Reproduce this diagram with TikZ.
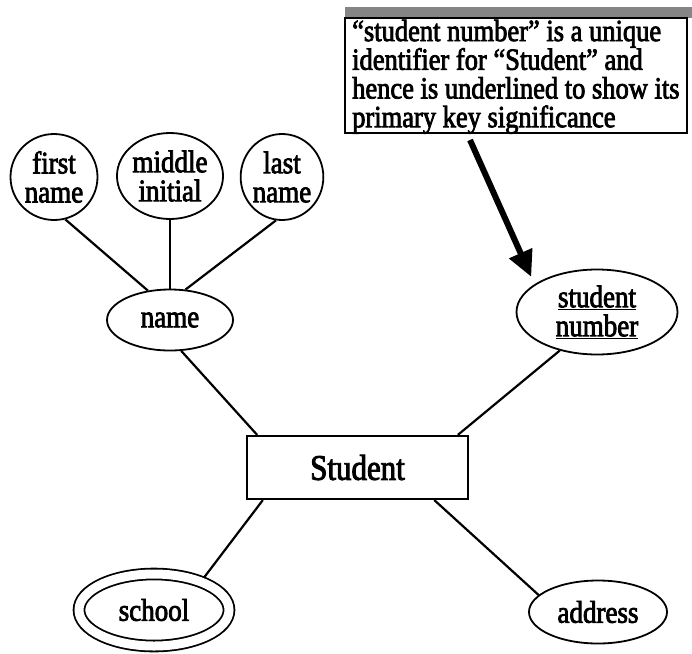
\documentclass[tikz,border=0pt]{standalone}
\usepackage{fontspec}
\setmainfont{Liberation Serif}[FakeStretch=0.86, FakeBold=2.5]
\usetikzlibrary{shapes.geometric,arrows.meta}

\newcommand\erattrfont{\fontsize{31.4}{29}\selectfont}
\newcommand\erentityfont{\fontsize{36}{40}\selectfont}
\newcommand\ernotefont{\fontsize{30.8}{28.7}\selectfont}

\tikzset{
  attr/.style={ellipse, draw, line width=1.8pt, inner sep=0pt, align=center, font=\erattrfont},
  entity/.style={rectangle, draw, line width=2.2pt, inner sep=0pt, font=\erentityfont},
  link/.style={draw, line width=2.2pt},
  noteframe/.style={rectangle, draw, line width=2.6pt, fill=white, inner sep=0pt},
  notetext/.style={inner sep=0pt, align=left, font=\ernotefont},
  pointer/.style={line width=6pt, -{Triangle[length=26pt,width=24pt]}},
}

\begin{document}
\begin{tikzpicture}[x=1pt,y=-1pt]
\useasboundingbox[fill=white] (0,0) rectangle (692,653);

% explanatory note with its shaded top bar
\fill[black!48] (345,7) rectangle (692,18);
\node[noteframe, minimum width=342pt, minimum height=115pt] (note) at (516,75.5) {};
\node[notetext, anchor=north west] (notetext) at (352,19.5)
  {“student number” is a unique\\identifier for “Student” and\\hence is underlined to show its\\primary key significance};

% attributes of the composite attribute
\node[attr, minimum width=87pt, minimum height=86pt]  (fname) at (54,177)  {first\\name};
\node[attr, minimum width=100pt, minimum height=86pt] (mname) at (170,176) {middle\\initial};
\node[attr, minimum width=75pt, minimum height=86pt]  (lname) at (282,177) {last\\name};
\node[attr, minimum width=126pt, minimum height=61pt] (name)  at (170,320) {name};

% key attribute
\node[attr, minimum width=161pt, minimum height=85pt] (snum) at (597,312)
  {\underline{student}\\\underline{number}};

% entity
\node[entity, minimum width=221pt, minimum height=63pt] (student) at (357.5,467.5) {Student};

% multivalued attribute and simple attribute
\node[attr, double, double distance=9pt, outer sep=5.5pt, minimum width=150pt, minimum height=72pt]
  (school) at (154,610) {school};
\node[attr, minimum width=138pt, minimum height=63pt] (address) at (598,612) {address};

% connectors
\draw[link] (fname.-75) -- (name.127);
\draw[link] (mname.-90) -- (name.90);
\draw[link] (lname.-98) -- (name.63);
\draw[link] (name.-70) -- (student.162);
\draw[link] (snum.-134) -- (student.18);
\draw[link] (school.33) -- (student.199);
\draw[link] (address.164) -- (student.-23.5);

% pointer from the note to the key attribute
\coordinate (tail) at (470,140);
\draw[pointer, shorten >=8pt] (tail) -- (snum.156);
\end{tikzpicture}
\end{document}
